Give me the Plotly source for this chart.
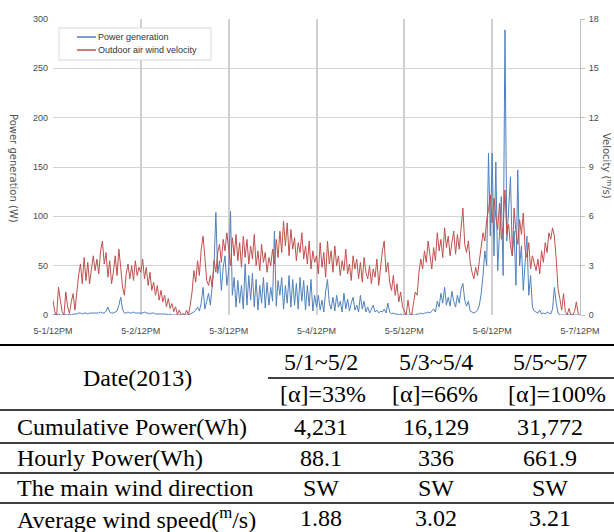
import plotly.graph_objects as go
import pandas as pd

W, H = 614, 532

# ---------------- data (30-min samples from 5-1 12:00 to 5-7 12:00) ----------------
velocity = [
    # 5-1 12PM -> 5-2 12PM
    0.9, 0.2, 0.0, 1.7, 0.9, 0.2, 0.0, 1.4, 0.5, 0.1, 0.8, 1.3,
    0.3, 1.6, 2.4, 3.1, 1.9, 3.5, 2.1, 3.2, 1.9, 2.8, 3.6, 2.7,
    3.4, 2.5, 3.9, 4.5, 3.1, 3.8, 2.3, 3.3, 1.9, 2.6, 3.6, 2.4,
    4.0, 2.9, 1.7, 1.2, 2.5, 3.1, 2.2, 3.0, 2.1, 3.3, 2.4, 2.9,
    # 5-2 12PM -> 5-3 12PM
    2.6, 3.4, 2.2, 2.9, 1.8, 2.6, 1.5, 2.0, 1.2, 1.8, 0.9, 1.5,
    0.8, 1.2, 0.5, 1.0, 0.4, 0.7, 0.2, 0.5, 0.0, 0.3, 0.0, 0.1,
    0.0, 0.3, 0.0, 0.6, 1.4, 2.7, 2.0, 3.3, 2.4, 4.0, 4.8, 3.5,
    2.1, 1.8, 2.4, 1.7, 3.3, 2.6, 3.8, 4.3, 3.2, 4.6, 3.9, 5.0,
    # 5-3 12PM -> 5-4 12PM
    4.1, 3.0, 4.7, 3.6, 4.9, 3.3, 4.4, 2.9, 4.8, 3.5, 4.6, 3.1,
    4.2, 3.4, 4.9, 3.0, 3.9, 2.7, 4.3, 3.2, 3.8, 2.6, 3.5, 3.0,
    4.0, 3.1, 4.6, 3.5, 5.1, 3.8, 5.7, 4.2, 5.6, 3.6, 5.2, 4.0,
    4.7, 3.3, 4.4, 3.8, 5.0, 3.4, 4.2, 3.1, 4.5, 2.8, 3.9, 3.2,
    # 5-4 12PM -> 5-5 12PM
    3.6, 2.5, 4.4, 2.9, 3.8, 2.3, 4.5, 3.1, 3.9, 2.6, 4.2, 3.0,
    3.6, 2.4, 3.3, 2.7, 4.0, 2.5, 3.1, 2.1, 3.6, 2.8, 3.4, 2.2,
    3.2, 2.0, 3.5, 2.6, 2.2, 3.0, 1.9, 2.8, 2.3, 3.4, 1.8, 2.9,
    3.9, 4.5, 2.6, 3.2, 2.0, 1.5, 2.4, 1.2, 1.9, 0.8, 1.4, 0.5,
    # 5-5 12PM -> 5-6 12PM
    0.2, 0.0, 0.9, 0.1, 0.0, 0.6, 1.4, 1.2, 2.6, 3.4, 2.8, 3.9,
    3.2, 4.5, 3.6, 2.8, 4.1, 3.3, 5.0, 3.9, 4.6, 3.5, 5.3, 4.1,
    4.8, 3.6, 4.4, 5.1, 3.7, 4.9, 4.0, 5.5, 6.5, 4.3, 3.8, 4.5,
    3.2, 2.6, 2.2, 2.9, 2.4, 3.3, 4.1, 5.0, 4.5, 5.8, 6.4, 7.3,
    # 5-6 12PM -> 5-7 12PM
    5.6, 7.1, 6.0, 5.2, 6.8, 4.6, 5.4, 7.6, 4.9, 5.5, 4.2, 3.6,
    6.5, 5.0, 4.3, 5.8, 4.9, 6.2, 4.0, 3.5, 4.4, 2.8, 3.6, 3.1,
    2.7, 3.4, 2.5, 3.9, 3.2, 4.4, 3.8, 5.0, 4.6, 5.3, 4.8, 3.4,
    1.6, 1.0, 0.3, 1.3, 0.2, 0.0, 0.4, 0.0, 0.0, 0.2, 0.8, 0.1,
    0.0,
]

power = [
    # 5-1 12PM -> 5-2 12PM
    0, 1, 0, 1, 0, 0, 1, 0, 0, 1, 0, 1,
    1, 1, 2, 2, 1, 2, 2, 1, 2, 2, 2, 2,
    2, 2, 3, 2, 2, 4, 8, 3, 2, 2, 3, 4,
    10, 18, 6, 2, 2, 3, 2, 2, 3, 2, 2, 2,
    # 5-2 12PM -> 5-3 12PM
    2, 2, 3, 2, 2, 1, 2, 2, 1, 1, 1, 1,
    1, 1, 1, 0, 1, 0, 0, 0, 0, 0, 0, 0,
    0, 0, 0, 1, 2, 3, 5, 8, 4, 12, 28, 6,
    14, 22, 10, 35, 50, 104, 42, 55, 25, 48, 60, 30,
    # 5-3 12PM -> 5-4 12PM
    45, 105, 20, 38, 8, 35, 12, 30, 6, 52, 10, 40,
    15, 42, 8, 36, 5, 30, 12, 38, 7, 33, 10, 28,
    14, 85, 9, 35, 20, 38, 6, 30, 12, 40, 8, 36,
    10, 32, 6, 38, 14, 35, 5, 30, 9, 36, 4, 20,
    # 5-4 12PM -> 5-5 12PM
    8, 20, 5, 15, 3, 24, 36, 12, 6, 18, 4, 20,
    8, 14, 3, 22, 6, 16, 4, 12, 18, 5, 10, 3,
    20, 6, 14, 3, 8, 2, 6, 10, 3, 5, 2, 4,
    3, 6, 2, 12, 3, 1, 2, 1, 1, 0, 1, 0,
    # 5-5 12PM -> 5-6 12PM
    0, 0, 0, 0, 1, 0, 0, 1, 1, 2, 1, 2,
    2, 3, 2, 4, 6, 3, 14, 8, 22, 12, 28, 10,
    18, 9, 24, 14, 8, 20, 12, 26, 32, 15, 9, 14,
    4, 3, 2, 3, 5, 10, 22, 40, 65, 50, 164, 80,
    # 5-6 12PM -> 5-7 12PM
    164, 60, 155, 45, 90, 120, 40, 289, 75, 110, 140, 60,
    85, 30, 147, 50, 70, 25, 55, 80, 20, 40, 8, 4,
    3, 2, 5, 1, 2, 1, 3, 2, 1, 6, 28, 12,
    2, 0, 0, 0, 0, 0, 0, 0, 0, 0, 0, 0,
    0,
]

times = pd.date_range("2013-05-01 12:00", periods=len(power), freq="30min")

tick_vals = pd.date_range("2013-05-01 12:00", periods=7, freq="1D")
tick_text = ["5-1/12PM", "5-2/12PM", "5-3/12PM", "5-4/12PM", "5-5/12PM", "5-6/12PM", "5-7/12PM"]

series_names = ["Power generation", "Outdoor air wind velocity"]

# table data
col_dates = ["5/1~5/2", "5/3~5/4", "5/5~5/7"]
col_alpha = ["[α]=33%", "[α]=66%", "[α]=100%"]
row_labels = ["Cumulative Power(Wh)", "Hourly Power(Wh)", "The main wind direction",
              "Average wind speed(<sup>m</sup>/s)"]
row_values = [
    ["4,231", "16,129", "31,772"],
    ["88.1", "336", "661.9"],
    ["SW", "SW", "SW"],
    ["1.88", "3.02", "3.21"],
]

# ---------------- helpers ----------------
def px(x):
    return x / W

def py(y):
    return 1 - y / H

BLUE = "#4F81BD"
RED = "#C0504D"
GRID = "#D4D4D4"
TICKC = "#4a4a4a"

fig = go.Figure()
fig.add_trace(go.Scatter(x=times, y=velocity, name=series_names[1], yaxis="y2",
                         mode="lines", line=dict(color=RED, width=1)))
fig.add_trace(go.Scatter(x=times, y=power, name=series_names[0], yaxis="y",
                         mode="lines", line=dict(color=BLUE, width=1)))

tick_font = dict(family="Liberation Sans", size=9, color=TICKC)

fig.update_layout(
    width=W, height=H,
    margin=dict(l=0, r=0, t=0, b=0),
    paper_bgcolor="white", plot_bgcolor="white",
    showlegend=False,
    xaxis=dict(domain=[px(53), px(580)], range=[tick_vals[0], tick_vals[-1]],
               tickvals=list(tick_vals), ticktext=tick_text, showgrid=True,
               gridcolor="#CFCFCF", gridwidth=2, zeroline=False, showline=False,
               ticks="", tickfont=tick_font, automargin=False, ticklabelstandoff=9),
    yaxis=dict(domain=[py(315), py(19)], range=[0, 300], dtick=50, showgrid=True,
               gridcolor=GRID, gridwidth=1, zeroline=False, ticks="", tickfont=tick_font,
               automargin=False, ticklabelstandoff=4),
    yaxis2=dict(overlaying="y", side="right", range=[0, 18], dtick=3, showgrid=False,
                zeroline=False, showline=True, linecolor="#BFBFBF", linewidth=1,
                ticks="outside", ticklen=4, tickcolor="#BFBFBF", tickfont=tick_font,
                anchor="x", automargin=False, ticklabelstandoff=2),
)

def ann(x, y, text, font, xanchor="center", yanchor="middle", **kw):
    fig.add_annotation(x=px(x), y=py(y), xref="paper", yref="paper", text=text,
                       showarrow=False, xanchor=xanchor, yanchor=yanchor, font=font, **kw)

# legend (drawn)
fig.add_shape(type="rect", xref="paper", yref="paper", x0=px(59), x1=px(211),
              y0=py(60), y1=py(28), line=dict(color="#D9D9D9", width=1), fillcolor="white")
leg_font = dict(family="Liberation Sans", size=9, color="#333333")
for ly, col, name in [(37, BLUE, series_names[0]), (50, RED, series_names[1])]:
    fig.add_shape(type="line", xref="paper", yref="paper", x0=px(77), x1=px(96),
                  y0=py(ly), y1=py(ly), line=dict(color=col, width=1.5))
    ann(96, ly, name, leg_font, xanchor="left")

# axis titles (reading top-to-bottom)
title_font = dict(family="DejaVu Sans", size=10, color="#555555")
ann(14, 168, "Power generation (W)", title_font, textangle=90)
ann(607, 166, "Velocity (<sup>m</sup>/s)", title_font, textangle=90)

# ---------------- table ----------------
serif = dict(family="Liberation Serif", size=24, color="black")
col_x = [321, 436, 550]

def hline(y, x0=0, x1=W, w=1.5):
    fig.add_shape(type="line", xref="paper", yref="paper", x0=px(x0), x1=px(x1),
                  y0=py(y), y1=py(y), line=dict(color="black", width=w))

hline(345, w=2)
hline(378, x0=268)
hline(410)
hline(443)
hline(473)
hline(503)

ann(137, 378, "Date(2013)", serif)
alpha_x = [323, 435, 557]
for cx, ax_, d, a in zip(col_x, alpha_x, col_dates, col_alpha):
    ann(cx, 362, d, serif)
    ann(ax_, 394, a, serif)

row_y = [427, 458, 488, 518]
for ry, lab, vals in zip(row_y, row_labels, row_values):
    ann(15, ry, lab, serif, xanchor="left")
    for cx, v in zip(col_x, vals):
        ann(cx, ry, v, serif)

fig.write_html("out.html")
